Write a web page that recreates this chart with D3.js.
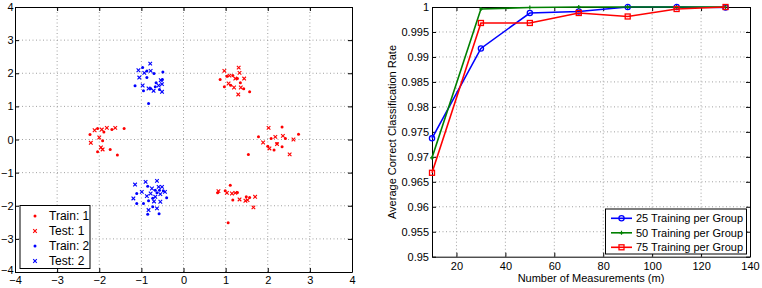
<!DOCTYPE html>
<html>
<head>
<meta charset="utf-8">
<script src="https://cdn.jsdelivr.net/npm/d3@7"></script>
<style>
  body { margin: 0; background: #fff; }
  text { font-family: "Liberation Sans", Arial, sans-serif; }
</style>
</head>
<body>
<div id="chart"></div>
<script>

// ---- left panel data: 2-D points per class ----
var train1 = [[0.87,1.81],[1.03,1.91],[1.17,1.93],[1.28,1.84],[1.35,1.71],[0.97,1.59],[1.12,1.64],[1.43,1.53],[1.57,1.44],
  [-2.22,0.15],[-2.04,0.33],[-1.89,0.23],[-1.70,0.30],[-1.41,0.33],[-1.92,-0.04],[-2.04,-0.37],[-1.74,-0.30],[-1.57,-0.47],
  [1.78,0.08],[2.08,0.03],[2.34,0.38],[2.42,0.03],[2.73,0.16],[2.22,-0.12],[1.54,-0.45],[2.00,-0.20],[2.15,-0.32],[2.34,-0.22],
  [0.81,-1.61],[0.99,-1.55],[1.11,-1.38],[1.17,-1.83],[1.28,-1.60],[1.49,-1.73],[1.57,-1.75],[1.06,-2.51]]
var test1 = [[0.97,2.07],[1.09,1.93],[1.23,1.84],[1.31,2.17],[1.33,2.01],[1.44,1.84],[1.07,1.69],[1.20,1.57],[1.36,1.57],[1.30,1.36],
  [-2.20,-0.10],[-2.11,0.28],[-1.94,0.30],[-1.82,0.35],[-1.62,0.35],[-2.00,0.06],[-1.96,-0.24],[-1.92,-0.30],
  [1.89,-0.09],[2.02,0.35],[2.18,0.08],[2.36,0.11],[2.61,0.0],[2.04,-0.27],[2.22,-0.14],[2.52,-0.45],
  [0.83,-1.56],[1.03,-1.61],[1.15,-1.63],[1.23,-1.61],[1.33,-1.81],[1.52,-1.83],[1.70,-1.73],[1.66,-2.05],[1.47,-1.85]]
var train2 = [[-1.15,1.62],[-0.97,2.17],[-0.87,2.07],[-0.70,1.99],[-0.87,1.87],[-0.95,1.47],[-0.67,1.59],[-0.50,1.81],[-0.57,1.51],
  [-0.78,1.54],[-0.65,1.71],[-0.83,1.09],[-0.49,2.04],
  [-1.11,-1.63],[-1.11,-1.93],[-0.95,-1.93],[-0.85,-1.41],[-0.83,-1.85],[-0.85,-2.26],[-0.73,-1.77],[-0.67,-1.53],[-0.63,-1.61],
  [-0.57,-1.53],[-0.48,-1.55],[-0.40,-1.76],[-0.58,-2.24],[-0.73,-2.03]]
var test2 = [[-1.07,2.09],[-1.05,1.87],[-0.93,2.01],[-0.78,2.07],[-0.79,2.29],[-0.97,1.63],[-0.83,1.54],[-0.59,1.63],[-0.51,1.67],
  [-0.51,1.44],[-0.71,1.47],[-0.54,1.79],
  [-1.15,-1.36],[-1.19,-1.78],[-0.99,-1.58],[-0.90,-1.28],[-0.87,-1.71],[-0.83,-2.13],[-0.75,-1.48],[-0.70,-1.87],[-0.63,-1.25],
  [-0.59,-1.43],[-0.55,-1.65],[-0.51,-1.43],[-0.44,-1.58],[-0.63,-2.08],[-0.55,-1.88],[-0.67,-1.73],[-0.78,-1.63]]
var scatterTicks = [-4, -3, -2, -1, 0, 1, 2, 3, 4]

// ---- right panel data ----
var measurements = [10, 30, 50, 70, 90, 110, 130]
var rate25 = [0.9737, 0.9917, 0.9988, 0.9991, 1.0, 1.0, 0.9999]
var rate50 = [0.9698, 0.9996, 0.9999, 1.0, 1.0, 1.0, 1.0]
var rate75 = [0.9668, 0.9968, 0.9968, 0.9988, 0.9981, 0.9996, 1.0]
var mTicks = [20, 40, 60, 80, 100, 120, 140]
var rateTicks = [0.95, 0.955, 0.96, 0.965, 0.97, 0.975, 0.98, 0.985, 0.99, 0.995, 1]

var svg = d3.select("#chart").append("svg")
    .attr("width", 762)
    .attr("height", 288)

var red = "#ff0000", blue = "#0000ff", green = "#008000"
var gridColor = "#a0a0a0"

function drawFrame(g, x, y, xt, yt, xfmt, yfmt, fs, xpad, ypad) {
    var x0 = x.range()[0], x1 = x.range()[1]
    var y0 = y.range()[0], y1 = y.range()[1]
    // dotted grid
    g.append("g").selectAll("line").data(xt.filter(function (d) { return x(d) > x0 + 1 && x(d) < x1 - 1 }))
        .enter().append("line")
        .attr("x1", function (d) { return x(d) }).attr("x2", function (d) { return x(d) })
        .attr("y1", y0).attr("y2", y1)
        .attr("stroke", gridColor).attr("stroke-dasharray", "1,2.5")
    g.append("g").selectAll("line").data(yt.filter(function (d) { return y(d) < y0 - 1 && y(d) > y1 + 1 }))
        .enter().append("line")
        .attr("y1", function (d) { return y(d) }).attr("y2", function (d) { return y(d) })
        .attr("x1", x0).attr("x2", x1)
        .attr("stroke", gridColor).attr("stroke-dasharray", "1,2.5")

    var axes = [
        [d3.axisBottom(x).tickValues(xt).tickFormat(xfmt), "translate(0," + y0 + ")", xpad],
        [d3.axisTop(x).tickValues(xt).tickFormat(""), "translate(0," + y1 + ")", 3],
        [d3.axisLeft(y).tickValues(yt).tickFormat(yfmt), "translate(" + x0 + ",0)", ypad],
        [d3.axisRight(y).tickValues(yt).tickFormat(""), "translate(" + x1 + ",0)", 3]
    ]
    var out = []
    axes.forEach(function (a) {
        var ax = g.append("g")
            .attr("transform", a[1])
            .call(a[0].tickSizeInner(-4).tickSizeOuter(0).tickPadding(a[2]))
        ax.select(".domain").attr("stroke", "#000")
        ax.selectAll(".tick line").attr("stroke", "#000")
        ax.selectAll("text").attr("fill", "#000").style("font-size", fs + "px")
            .style("font-family", "'Liberation Sans', Arial, sans-serif")
        out.push(ax)
    })
    return out
}

// ================= left: scatter =================
var sx = d3.scaleLinear().domain([-4, 4]).range([15, 352])
var sy = d3.scaleLinear().domain([-4, 4]).range([272, 7])
var left = svg.append("g")
var leftAxes = drawFrame(left, sx, sy, scatterTicks, scatterTicks, d3.format("d"), d3.format("d"), 11, 4.5, 1.5)
// lift the lowest y label a touch so it clears the corner x label
leftAxes[2].selectAll(".tick text").filter(function (d) { return d == -4 }).attr("dy", "0.1em")

function dots(g, pts, color) {
    g.append("g").selectAll("circle").data(pts).enter().append("circle")
        .attr("cx", function (d) { return sx(d[0]) })
        .attr("cy", function (d) { return sy(d[1]) })
        .attr("r", 1.5)
        .attr("fill", color)
}
function crosses(g, pts, color) {
    g.append("g").selectAll("path").data(pts).enter().append("path")
        .attr("d", function (d) {
            var cx = sx(d[0]), cy = sy(d[1]), s = 1.8
            return "M" + (cx - s) + "," + (cy - s) + "L" + (cx + s) + "," + (cy + s) +
                "M" + (cx - s) + "," + (cy + s) + "L" + (cx + s) + "," + (cy - s)
        })
        .attr("stroke", color).attr("stroke-width", 1.1).attr("fill", "none")
}
dots(left, train1, red)
crosses(left, test1, red)
dots(left, train2, blue)
crosses(left, test2, blue)

// legend (left)
var lg = left.append("g")
lg.append("rect").attr("x", 20).attr("y", 205.5).attr("width", 70).attr("height", 63)
    .attr("fill", "#fff").attr("stroke", "#000")
var leftLegend = [["Train: 1", red, "dot"], ["Test: 1", red, "x"], ["Train: 2", blue, "dot"], ["Test: 2", blue, "x"]]
leftLegend.forEach(function (d, i) {
    var cy = 216 + i * 15
    if (d[2] == "dot") {
        lg.append("circle").attr("cx", 35).attr("cy", cy).attr("r", 1.5).attr("fill", d[1])
    } else {
        lg.append("path").attr("d", "M33.2," + (cy - 1.8) + "L36.8," + (cy + 1.8) + "M33.2," + (cy + 1.8) + "L36.8," + (cy - 1.8))
            .attr("stroke", d[1]).attr("stroke-width", 1.1)
    }
    lg.append("text").attr("x", 49).attr("y", cy + 4.3).text(d[0]).style("font-size", "12px")
})

// ================= right: lines =================
var rx = d3.scaleLinear().domain([10, 140]).range([432, 750])
var ry = d3.scaleLinear().domain([0.95, 1]).range([256.7, 7])
var right = svg.append("g")
drawFrame(right, rx, ry, mTicks, rateTicks, d3.format("d"), d3.format(".3~f"), 11, 5.5, 3)

var series = [
    { name: "25 Training per Group", values: rate25, color: blue, marker: "circle" },
    { name: "50 Training per Group", values: rate50, color: green, marker: "plus" },
    { name: "75 Training per Group", values: rate75, color: red, marker: "square" }
]

function marker(g, kind, cx, cy, color) {
    if (kind == "circle") {
        g.append("circle").attr("cx", cx).attr("cy", cy).attr("r", 2.6)
            .attr("fill", "none").attr("stroke", color).attr("stroke-width", 1.3)
    } else if (kind == "square") {
        g.append("rect").attr("x", cx - 2.5).attr("y", cy - 2.5).attr("width", 5).attr("height", 5)
            .attr("fill", "none").attr("stroke", color).attr("stroke-width", 1.3)
    } else {
        g.append("path").attr("d", "M" + (cx - 2) + "," + cy + "H" + (cx + 2) + "M" + cx + "," + (cy - 2) + "V" + (cy + 2))
            .attr("stroke", color).attr("stroke-width", 1.2)
    }
}

var line = d3.line()
    .x(function (d) { return rx(d[0]) })
    .y(function (d) { return ry(d[1]) })

series.forEach(function (s) {
    var pts = d3.zip(measurements, s.values)
    right.append("path").datum(pts)
        .attr("d", line)
        .attr("fill", "none").attr("stroke", s.color).attr("stroke-width", 1.6)
    pts.forEach(function (p) { marker(right, s.marker, rx(p[0]), ry(p[1]), s.color) })
})

// axis labels
right.append("text").attr("x", 591).attr("y", 282).attr("text-anchor", "middle")
    .style("font-size", "11px").text("Number of Measurements (m)")
right.append("text").attr("transform", "translate(396,132) rotate(-90)").attr("text-anchor", "middle")
    .style("font-size", "11px").text("Average Correct Classification Rate")

// legend (right)
var rg = right.append("g")
rg.append("rect").attr("x", 605.5).attr("y", 209).attr("width", 141).attr("height", 45)
    .attr("fill", "#fff").attr("stroke", "#000")
series.forEach(function (s, i) {
    var cy = 218.3 + i * 14.5
    rg.append("line").attr("x1", 611).attr("x2", 632).attr("y1", cy).attr("y2", cy)
        .attr("stroke", s.color).attr("stroke-width", 1.6)
    marker(rg, s.marker, 621.5, cy, s.color)
    rg.append("text").attr("x", 636).attr("y", cy + 4).style("font-size", "11px").text(s.name)
})

</script>
</body>
</html>
